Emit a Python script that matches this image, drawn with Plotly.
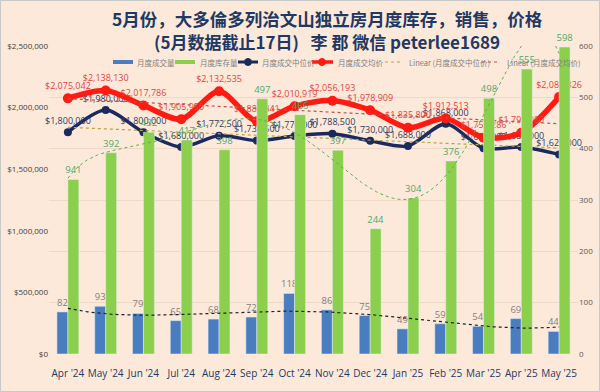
import numpy as np
import plotly.graph_objects as go

months = ["Apr '24", "May '24", "Jun '24", "Jul '24", "Aug '24", "Sep '24", "Oct '24",
          "Nov '24", "Dec '24", "Jan '25", "Feb '25", "Mar '25", "Apr '25", "May '25"]
volume = [82, 93, 79, 65, 68, 72, 118, 86, 75, 49, 59, 54, 69, 44]
inventory = [340, 392, 432, 417, 398, 497, 466, 397, 244, 304, 376, 498, 555, 598]
inventory_labels = ["941", "392", "432", "417", "398", "497", "466", "397", "244", "304", "376", "498", "555", "598"]
median_price = [1800000, 1980000, 1800000, 1680000, 1772500, 1732500, 1770000,
                1788500, 1730000, 1688000, 1868000, 1670000, 1680000, 1620000]
avg_price = [2075042, 2138130, 2017786, 1905950, 2132535, 1888841, 2010919,
             2056193, 1978909, 1835800, 1912513, 1756286, 1795080, 2085326]

x = np.arange(len(months))
xf = np.linspace(0, len(months) - 1, 200)

BG = "#FCE9DA"
NAVY = "#1B2A5E"
RED = "#FF1A12"
BLUE = "#4A7DC0"
GREEN = "#8CCF4D"
TAN = "#B9A24C"
DRED = "#C0504D"
LBL = "Noto Sans CJK SC"

# plot-area geometry (pixels) for paper-coordinate conversions
L, R, T, B = 49, 578, 46, 354
def px(v):
    return (v - L) / (R - L)
def py(v):
    return (B - v) / (B - T)

fig = go.Figure()

fig.add_trace(go.Bar(
    x=x, y=volume, name="月度成交量", yaxis="y2", marker_color=BLUE,
    text=[str(v) for v in volume], textposition="outside", constraintext="none",
    textfont=dict(size=9.5, color="#7F7F7F", family="Open Sans"), cliponaxis=False,
))
fig.add_trace(go.Bar(
    x=x, y=inventory, name="月度库存量", yaxis="y2", marker_color=GREEN,
    text=inventory_labels, textposition="outside", constraintext="none",
    textfont=dict(size=9.5, color="#4FA86A", family="Open Sans"), cliponaxis=False,
))

# polynomial trendlines (computed from data)
inv_fit = np.polyval(np.polyfit(x, inventory, 6), xf)
vol_fit = np.polyval(np.polyfit(x, volume, 4), xf)
fig.add_trace(go.Scatter(x=xf, y=inv_fit, yaxis="y2", mode="lines", showlegend=False,
                         line=dict(color="#5FB04A", width=1, dash="dot"), hoverinfo="skip"))
fig.add_trace(go.Scatter(x=xf, y=vol_fit, yaxis="y2", mode="lines", showlegend=False,
                         line=dict(color="#222222", width=1.2, dash="dot"), hoverinfo="skip"))

fig.add_trace(go.Scatter(
    x=x, y=median_price, name="月度成交中位价", mode="lines+markers+text",
    line=dict(color=NAVY, width=3.5, shape="spline", smoothing=0.8),
    marker=dict(size=8, color=NAVY),
    text=["${:,.0f}".format(v) for v in median_price], textposition="top center",
    textfont=dict(size=9, color="#2E3B5E", family="Open Sans"), cliponaxis=False,
))
fig.add_trace(go.Scatter(
    x=x, y=avg_price, name="月度成交均价", mode="lines+markers+text",
    line=dict(color=RED, width=5.5, shape="spline", smoothing=0.8),
    marker=dict(size=10, color=RED),
    text=["${:,.0f}".format(v) for v in avg_price], textposition="top center",
    textfont=dict(size=9, color="#E0453C", family="Open Sans"), cliponaxis=False,
))

med_lin = np.polyval(np.polyfit(x, median_price, 1), x)
avg_lin = np.polyval(np.polyfit(x, avg_price, 1), x)
fig.add_trace(go.Scatter(x=x, y=med_lin, name="Linear (月度成交中位价)", mode="lines",
                         line=dict(color=TAN, width=1.2, dash="dot"), hoverinfo="skip"))
fig.add_trace(go.Scatter(x=x, y=avg_lin, name="Linear (月度成交均价)", mode="lines",
                         line=dict(color=DRED, width=1.2, dash="dot"), hoverinfo="skip"))

# titles
fig.add_annotation(text="<b>5月份，大多倫多列治文山独立房月度库存，销售，价格</b>",
                   xref="paper", yref="paper", x=px(327), y=py(18),
                   xanchor="center", yanchor="middle", showarrow=False,
                   font=dict(size=17.5, color="#1F3864", family=LBL))
fig.add_annotation(text="<b>(5月数据截止17日)   李 郡 微信 peterlee1689</b>",
                   xref="paper", yref="paper", x=px(327), y=py(41),
                   xanchor="center", yanchor="middle", showarrow=False,
                   font=dict(size=17, color="#1F3864", family=LBL))

# legend drawn manually to match the compact one-row layout
LY = 62
leg_names = [tr.name for tr in fig.data if tr.showlegend is not False]
leg_text_x = [135, 198, 260, 336, 407, 505]
for name, tx in zip(leg_names, leg_text_x):
    fig.add_annotation(text=name, xref="paper", yref="paper", x=px(tx), y=py(LY),
                       xanchor="left", yanchor="middle", showarrow=False,
                       font=dict(size=7.5, color="#7F7F7F", family=LBL))
def seg(x0, x1, color, width, dash="solid"):
    fig.add_shape(type="line", xref="paper", yref="paper", x0=px(x0), x1=px(x1),
                  y0=py(LY), y1=py(LY), line=dict(color=color, width=width, dash=dash))
def dot(cx, color, r=3.5):
    fig.add_shape(type="circle", xref="paper", yref="paper", x0=px(cx - r), x1=px(cx + r),
                  y0=py(LY + r), y1=py(LY - r), line=dict(color=color, width=1), fillcolor=color)
seg(113, 133, BLUE, 4)
seg(175, 195, GREEN, 4)
seg(238, 258, NAVY, 3); dot(248, NAVY)
seg(312, 333, RED, 3.5); dot(322, RED)
seg(385, 403, TAN, 1.2, "dot")
seg(482, 500, DRED, 1.2, "dot")

fig.add_shape(type="rect", xref="paper", yref="paper",
              x0=px(0.5), x1=px(599.5), y0=py(391.5), y1=py(0.5),
              line=dict(color="#C8C8C8", width=1), fillcolor="rgba(0,0,0,0)", layer="above")

fig.update_layout(
    width=600, height=392,
    margin=dict(l=L, r=600 - R, t=T, b=392 - B, autoexpand=False),
    paper_bgcolor=BG, plot_bgcolor=BG,
    barmode="group", bargap=0.42, bargroupgap=0,
    font=dict(family=LBL, color="#595959"),
    showlegend=False,
    xaxis=dict(tickvals=list(x), ticktext=months, range=[-0.5, len(months) - 0.5],
               showgrid=False, zeroline=False, showline=False, ticks="", tickangle=0,
               ticklabelstandoff=12,
               tickfont=dict(size=10, color="#1F3864", family="Open Sans")),
    yaxis=dict(range=[0, 2500000], dtick=500000, tickformat="$,.0f", showgrid=False,
               zeroline=False, ticks="", tickfont=dict(size=8, color="#404040", family="Open Sans")),
    yaxis2=dict(range=[0, 600], dtick=100, overlaying="y", side="right", showgrid=True,
                gridcolor="#EFD8C6", gridwidth=1, zeroline=False, ticks="",
                tickfont=dict(size=8, color="#595959", family="Open Sans")),
)

fig.write_html("out.html", config={"displayModeBar": False},
               post_script="document.body.style.margin='0';document.body.style.overflow='hidden';")
